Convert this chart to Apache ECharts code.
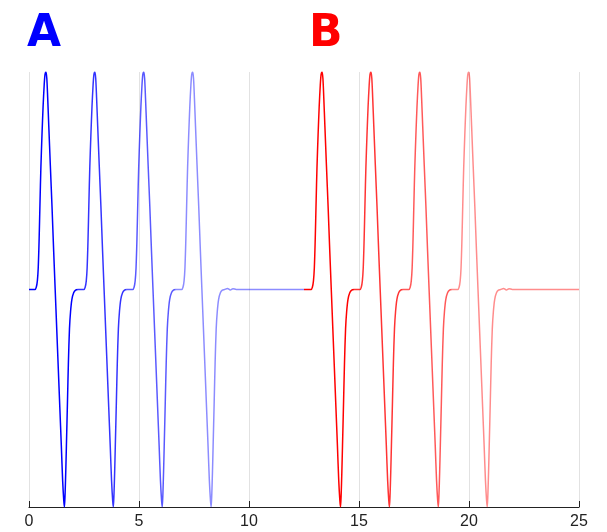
<!DOCTYPE html>
<html><head><meta charset="utf-8">
<script src="https://cdn.jsdelivr.net/npm/echarts@6/dist/echarts.min.js"></script>
<style>html,body{margin:0;padding:0;background:#fff}#c{width:607px;height:532px}</style>
</head><body><div id="c"></div>
<script>
// tick labels of the x axis
const xTicks = [0, 5, 10, 15, 20, 25];
// one pulse (offset from pulse start, amplitude)
const pulseX = [0, 0.27, 0.33, 0.38, 0.42, 0.46, 0.50, 0.54, 0.59, 0.64, 0.69, 0.73, 0.77, 0.81, 0.85, 0.90, 0.97, 1.05, 1.12, 1.19, 1.26, 1.33, 1.40, 1.47, 1.53, 1.58, 1.61, 1.64, 1.67, 1.70, 1.75, 1.79, 1.84, 1.89, 1.95, 2.03, 2.12, 2.22];
const pulseY = [0, 0, 0.01, 0.04, 0.10, 0.23, 0.40, 0.56, 0.71, 0.84, 0.94, 0.99, 1.0, 0.97, 0.88, 0.75, 0.57, 0.37, 0.18, 0.0, -0.18, -0.36, -0.54, -0.72, -0.88, -0.97, -1.0, -0.94, -0.84, -0.72, -0.51, -0.34, -0.18, -0.10, -0.045, -0.015, -0.003, 0];
// small ringing after the last pulse of each group
const tailX = [2.35, 2.48, 2.60, 2.75];
const tailY = [0.005, -0.002, 0.004, 0];
// groups
const groupNames = ['A', 'B'];
const groupColors = ['#0000ff', '#ff0000'];
const groupStart = [0, 12.5];
const groupEnd = [12.5, 25];
const bluePulses = [0, 2.223, 4.446, 6.669];
const redPulses = [12.55, 14.773, 16.996, 19.219];
const pulseOpacity = [1, 0.8, 0.65, 0.45];

const pulses = [bluePulses, redPulses];
const series = [];
pulses.forEach((list, g) => {
  list.forEach((p, k) => {
    const data = [[k === 0 ? groupStart[g] : p, 0]];
    pulseX.forEach((dx, i) => data.push([p + dx, pulseY[i]]));
    if (k === list.length - 1) {
      tailX.forEach((dx, i) => data.push([p + dx, tailY[i]]));
      data.push([groupEnd[g], 0]);
    }
    series.push({
      type: 'line', name: groupNames[g] + (k + 1), data: data,
      showSymbol: false, smooth: 0.3, silent: true,
      lineStyle: { color: groupColors[g], width: 1.5, opacity: pulseOpacity[k] }
    });
  });
});

const chart = echarts.init(document.getElementById('c'), null, { renderer: 'canvas' });
chart.setOption({
  animation: false,
  backgroundColor: '#ffffff',
  grid: { left: 29, right: 28, top: 72, bottom: 25 },
  xAxis: {
    type: 'value', min: xTicks[0], max: xTicks[xTicks.length - 1], interval: 5,
    axisLine: { onZero: false, lineStyle: { color: '#222', width: 1.2 } },
    axisTick: { inside: true, length: 6, lineStyle: { color: '#222' } },
    axisLabel: { color: '#222', fontSize: 16, margin: 7, fontFamily: 'Liberation Sans' },
    splitLine: { show: true, lineStyle: { color: '#e2e2e2', width: 1 } }
  },
  yAxis: { type: 'value', min: -1, max: 1, show: false },
  graphic: [
    { type: 'text', x: 27, y: 35, style: { text: groupNames[0], fill: groupColors[0], font: 'bold 44px "DejaVu Sans"', textAlign: 'left', textVerticalAlign: 'middle' } },
    { type: 'text', x: 309, y: 35, style: { text: groupNames[1], fill: groupColors[1], font: 'bold 44px "DejaVu Sans"', textAlign: 'left', textVerticalAlign: 'middle' } }
  ],
  series: series
});
</script>
</body></html>
